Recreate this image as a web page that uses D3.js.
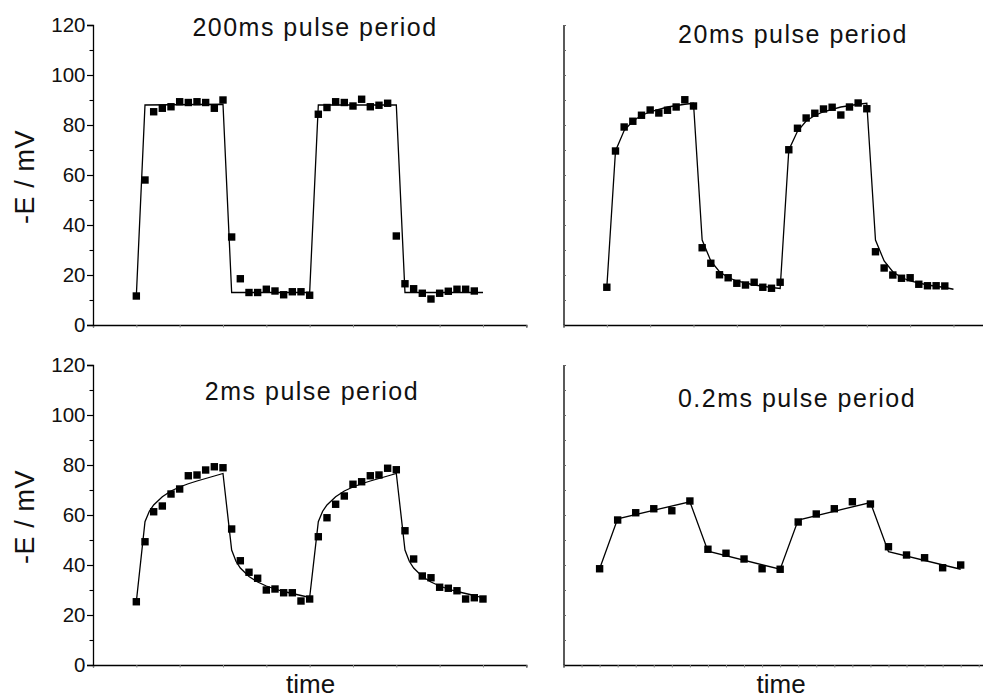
<!DOCTYPE html>
<html>
<head>
<meta charset="utf-8">
<script src="https://cdn.jsdelivr.net/npm/d3@7"></script>
<style>
  body { margin: 0; background: #fff; }
  svg { display: block; font-family: "Liberation Sans", Arial, sans-serif; }
</style>
</head>
<body>
<svg id="chart" width="983" height="698"></svg>
<script>
// measured values, time in axis tick units
const pts200 = [11.6, 58, 85.3, 86.7, 87.3, 89.3, 89, 89.3, 89, 86.7, 90, 35.2, 18.5, 13, 13, 14.3, 13.6, 12.1, 13.3, 13.3,
                11.9, 84.3, 87, 89.3, 89, 87.6, 90.3, 87.3, 87.9, 88.7, 35.6, 16.5, 14.5, 12.7, 10.4, 12.7, 13.5, 14.3, 14.3, 13.6];
const fit200T = [1, 1.2, 3, 3.2, 5, 5.2, 7, 7.2, 9];
const fit200V = [11.6, 88, 88.3, 13, 13, 88, 88, 13, 13];

const pts20 = [15.1, 69.6, 79.2, 81.5, 83.9, 86, 84.8, 85.9, 87.2, 90.1, 87.6, 30.9, 24.7, 20.1, 18.9, 16.7, 16, 17.1, 15.1, 14.7,
               17.1, 70.1, 78.7, 82.8, 84.7, 86.4, 87.1, 84, 87.2, 88.8, 86.5, 29.3, 22.8, 20, 18.7, 18.9, 16.3, 15.7, 15.7, 15.6];
const fit20T = [1, 1.2, 1.4, 1.6, 1.8, 2, 2.4, 2.8, 3, 3.2, 3.4, 3.6, 3.8, 4, 4.4, 4.8, 5,
                5.2, 5.4, 5.6, 5.8, 6, 6.4, 6.8, 7, 7.2, 7.4, 7.6, 7.8, 8, 8.4, 8.8, 9];
const fit20V = [15.1, 69.6, 77.8, 81.6, 83.8, 85.3, 87.2, 88.3, 88.7, 34, 25.6, 21.3, 19, 17.6, 16, 15, 14.6,
                70, 77.5, 81.6, 83.8, 85.3, 87.2, 88.3, 88.7, 34, 25.6, 21.3, 19, 17.6, 16, 15, 14.3];

const pts2 = [25.3, 49.3, 61.3, 63.6, 68.4, 70.4, 75.7, 76, 78, 79.3, 78.9, 54.4, 41.7, 37.1, 34.7, 30, 30.4, 28.9, 28.9, 25.6,
              26.4, 51.3, 58.9, 64.3, 67.6, 72.3, 73.3, 75.7, 76, 78.7, 78.1, 53.7, 42.4, 35.6, 34.9, 31.1, 30.7, 29.7, 26.4, 26.9, 26.4];
const fit2T = [1, 1.2, 1.3, 1.4, 1.6, 1.8, 2, 2.2, 2.4, 2.6, 2.8, 3, 3.2, 3.3, 3.4, 3.6, 3.8, 4, 4.2, 4.4, 4.6, 4.8, 5,
               5.2, 5.3, 5.4, 5.6, 5.8, 6, 6.2, 6.4, 6.6, 6.8, 7, 7.2, 7.3, 7.4, 7.6, 7.8, 8, 8.2, 8.4, 8.6, 8.8, 9];
const fit2V = [25.3, 57.3, 61.5, 64, 67.3, 69.6, 71.2, 72.5, 73.6, 74.6, 75.6, 76.6, 46, 41.5, 38.8, 35.4, 33.2, 31.6, 30.4, 29.4, 28.6, 27.8, 27,
               57.3, 61.5, 64, 67.3, 69.6, 71.2, 72.5, 73.6, 74.6, 75.6, 76.6, 46, 41.5, 38.8, 35.4, 33.2, 31.6, 30.4, 29.4, 28.6, 27.8, 26.8];

const pts02T = [2, 3, 4, 5, 6, 7, 8, 9, 10, 11, 12, 13, 14, 15, 16, 17, 18, 19, 20, 21, 22];
const pts02 = [38.5, 58, 60.9, 62.5, 61.7, 65.6, 46.3, 44.7, 42.4, 38.5, 38.3, 57.2, 60.4, 62.5, 65.3, 64.4, 47.3, 44, 42.9, 38.9, 40];
const fit02T = [2, 3, 7, 8, 12, 13, 17, 18, 22];
const fit02V = [38.5, 58.5, 65.3, 45.5, 38.3, 58, 65, 45.3, 38.3];

const titles = ["200ms pulse period", "20ms pulse period", "2ms pulse period", "0.2ms pulse period"];
const yTicks = [0, 20, 40, 60, 80, 100, 120];

const stepTimes = n => d3.range(n).map(i => 1 + i * 0.2);

const panels = [
  {left: 93, top: 25, tMax: 10, labels: true, xLabel: false, title: titles[0], tx: 315, ty: 36,
   pts: d3.zip(stepTimes(pts200.length), pts200), fit: d3.zip(fit200T, fit200V)},
  {left: 563.5, top: 25, tMax: 10, labels: false, xLabel: false, title: titles[1], tx: 793, ty: 42.5,
   pts: d3.zip(stepTimes(pts20.length), pts20), fit: d3.zip(fit20T, fit20V)},
  {left: 93, top: 365, tMax: 10, labels: true, xLabel: true, title: titles[2], tx: 312, ty: 400,
   pts: d3.zip(stepTimes(pts2.length), pts2), fit: d3.zip(fit2T, fit2V)},
  {left: 563.5, top: 365, tMax: 24, labels: false, xLabel: true, title: titles[3], tx: 797, ty: 406.5,
   pts: d3.zip(pts02T, pts02), fit: d3.zip(fit02T, fit02V)}
];

const W = 433.3, H = 300;
const svg = d3.select("#chart");

panels.forEach(p => {
  const x = d3.scaleLinear().domain([0, p.tMax]).range([p.left, p.left + W]);
  const y = d3.scaleLinear().domain([0, 120]).range([p.top + H, p.top]);
  const g = svg.append("g");

  // x axis: faint short ticks below
  const xa = g.append("g").attr("transform", `translate(0,${p.top + H})`)
    .call(d3.axisBottom(x).ticks(p.tMax).tickSize(2.5).tickFormat(""));
  xa.select(".domain").attr("stroke", "#000").attr("stroke-width", 1.3);
  xa.selectAll(".tick line").attr("stroke", "#888").attr("stroke-width", 1);

  if (p.labels) {
    const ya = g.append("g").attr("transform", `translate(${p.left},0)`)
      .call(d3.axisLeft(y).tickValues(yTicks).tickSize(6).tickPadding(1.5));
    ya.select(".domain").attr("stroke-width", 1.3);
    ya.selectAll(".tick line").attr("stroke-width", 1.2);
    ya.selectAll(".tick text").attr("font-size", 20.5).attr("fill", "#111")
      .attr("font-family", "Liberation Sans, Arial, sans-serif");
    g.append("g").attr("transform", `translate(${p.left},0)`)
      .call(d3.axisLeft(y).tickValues(d3.range(10, 120, 20)).tickSize(3.5).tickFormat(""))
      .call(a => a.select(".domain").remove())
      .selectAll(".tick line").attr("stroke-width", 1.1);
    g.append("text").attr("transform", `translate(34,${(p.top + p.top + H) / 2 + 2}) rotate(-90)`)
      .attr("text-anchor", "middle").attr("font-size", 27).attr("letter-spacing", 0.6)
      .attr("fill", "#111").text("-E / mV");
  } else {
    const ya = g.append("g").attr("transform", `translate(${p.left},0)`)
      .call(d3.axisRight(y).tickValues(d3.range(10, 121, 10)).tickSize(2.5).tickFormat(""));
    ya.select(".domain").attr("stroke-width", 1.3).attr("d", `M0.5,${p.top + H}V${p.top}`);
    ya.selectAll(".tick line").attr("stroke", "#666");
  }

  if (p.xLabel) {
    g.append("text").attr("x", p.left + W / 2 + 1).attr("y", 693).attr("text-anchor", "middle")
      .attr("font-size", 26).attr("fill", "#111").text("time");
  }

  g.append("text").attr("x", p.tx).attr("y", p.ty).attr("text-anchor", "middle")
    .attr("font-size", 25).attr("letter-spacing", 1.5).attr("fill", "#111").text(p.title);

  const line = d3.line().x(d => x(d[0])).y(d => y(d[1]));
  g.append("path").datum(p.fit).attr("d", line)
    .attr("fill", "none").attr("stroke", "#000").attr("stroke-width", 1.3);

  g.selectAll("rect.pt").data(p.pts).join("rect").attr("class", "pt")
    .attr("x", d => x(d[0]) - 3.7).attr("y", d => y(d[1]) - 3.7)
    .attr("width", 7.4).attr("height", 7.4).attr("fill", "#000");
});
</script>
</body>
</html>
